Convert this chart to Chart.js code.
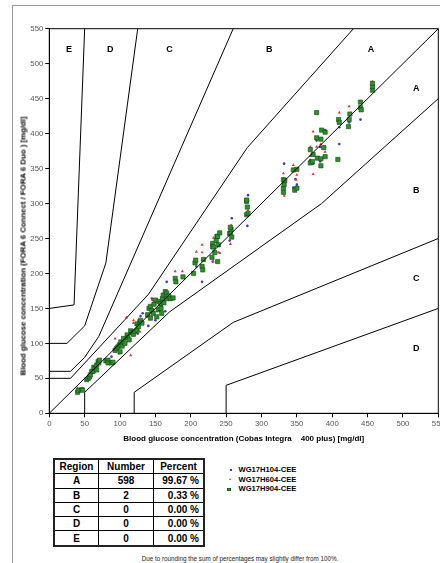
<!DOCTYPE html>
<html lang="en">
<head>
  <meta charset="UTF-8">
  <title>Consensus Error Grid</title>
  <script src="https://cdn.jsdelivr.net/npm/chart.js"></script>
  <style>
    body {
      margin: 0;
      width: 440px;
      height: 563px;
      overflow: hidden;
      background: #fff;
      font-family: "Liberation Sans", Arial, sans-serif;
      position: relative;
    }
    #frame {
      position: absolute;
      left: 12px;
      top: 5px;
      width: 500px;
      height: 600px;
      border-left: 1.5px solid #999;
      border-top: 1.5px solid #999;
    }
    #chart-box {
      position: absolute;
      left: 0;
      top: 0;
      width: 460px;
      height: 450px;
    }
    #ytitle {
      position: absolute;
      left: 22.5px;
      top: 246px;
      transform: translate(-50%, -50%) rotate(-90deg);
      white-space: nowrap;
      font-weight: bold;
      font-size: 7.8px;
      color: #000;
    }
    #stats {
      position: absolute;
      left: 53px;
      top: 458px;
      border-collapse: collapse;
      border: 2px solid #222;
      font-weight: bold;
      font-size: 10px;
    }
    #stats td, #stats th {
      border: 1px solid #000;
      height: 13.3px;
      padding: 0;
      text-align: center;
    }
    #stats td.pct { text-align: right; padding-right: 4px; }
    #legend {
      position: absolute;
      left: 226px;
      top: 465px;
      font-weight: bold;
      font-size: 7.6px;
    }
    .row { position: relative; height: 9.7px; line-height: 9.7px; padding-left: 12.5px; white-space: nowrap; }
    .mk { position: absolute; }
    #note {
      position: absolute;
      left: 240px;
      top: 558px;
      transform: translate(-50%, -50%);
      white-space: nowrap;
      font-size: 6.3px;
      color: #222;
    }
  </style>
</head>
<body>
  <div id="frame"></div>
  <div id="chart-box"><canvas id="grid" width="460" height="450"></canvas></div>
  <div id="ytitle">Blood glucose concentration (FORA 6 Connect / FORA 6 Duo ) [mg/dl]</div>
  <table id="stats"></table>
  <div id="legend"></div>
  <div id="note">Due to rounding the sum of percentages may slightly differ from 100%.</div>

  <script>
    // axis
    const xTitle = 'Blood glucose concentration (Cobas Integra    400 plus) [mg/dl]';
    const axisMax = 550;
    const tickStep = 50;

    // zone boundaries (consensus error grid)
    const lineAUpperX = [0, 30, 140, 280, 430];
    const lineAUpperY = [50, 50, 170, 380, 550];
    const lineALowerX = [50, 50, 170, 385, 550];
    const lineALowerY = [0, 30, 145, 300, 450];
    const lineBUpperX = [0, 30, 50, 70, 260];
    const lineBUpperY = [60, 60, 80, 110, 550];
    const lineBLowerX = [120, 120, 260, 550];
    const lineBLowerY = [0, 30, 130, 250];
    const lineCUpperX = [0, 25, 50, 80, 125];
    const lineCUpperY = [100, 100, 125, 215, 550];
    const lineCLowerX = [250, 250, 550];
    const lineCLowerY = [0, 40, 150];
    const lineDUpperX = [0, 35, 50];
    const lineDUpperY = [150, 155, 550];
    const identityX = [0, 550];
    const identityY = [0, 550];

    const zoneLabels = ['E', 'D', 'C', 'B', 'A', 'A', 'B', 'C', 'D'];
    const zoneLabelX = [28, 86, 170, 311, 455, 519, 519, 519, 519];
    const zoneLabelY = [520, 520, 520, 520, 520, 464, 318, 193, 92];

    // series
    const seriesNames = ['WG17H104-CEE', 'WG17H604-CEE', 'WG17H904-CEE'];

    const bluePts = [
      [88, 81], [99, 86], [125, 114], [129, 139], [132, 143], [140, 125], [145, 164],
      [150, 133], [159, 153], [164, 146], [166, 188], [175, 163], [179, 188], [208, 210],
      [216, 188], [231, 217], [234, 229], [255, 247], [258, 279], [280, 268], [281, 312],
      [345, 323], [348, 335], [350, 327], [332, 357], [369, 362], [373, 357], [378, 390],
      [383, 360], [383, 381], [390, 405], [410, 385], [410, 409], [424, 416], [440, 420]
    ];

    const redPts = [
      [40, 36], [62, 67], [66, 70], [71, 72], [79, 74], [93, 107], [109, 137], [115, 83],
      [119, 133], [119, 129], [128, 117], [138, 138], [143, 138], [146, 162], [150, 157],
      [154, 150], [157, 155], [170, 162], [178, 203], [188, 203], [208, 231], [216, 241],
      [216, 219], [216, 230], [206, 218], [232, 217], [232, 251], [239, 230], [257, 269],
      [256, 242], [241, 229], [281, 290], [331, 343], [332, 311], [349, 334], [350, 341],
      [345, 355], [369, 381], [369, 368], [373, 342], [373, 403], [378, 381], [384, 385],
      [390, 381], [390, 374], [410, 430], [424, 439], [440, 445], [457, 474]
    ];

    const greenPts = [
      [40, 30], [41, 33], [46, 34], [47, 33], [53, 48], [55, 50], [57, 52], [58, 55],
      [60, 60], [62, 60], [63, 66], [65, 64], [67, 62], [67, 69], [69, 74], [70, 72], [71, 76],
      [80, 75], [83, 76], [83, 72], [88, 72], [90, 73],
      [93, 90], [95, 93], [97, 95], [99, 98], [100, 88], [101, 102], [103, 96], [105, 107],
      [107, 100], [110, 112], [111, 108], [113, 105], [115, 118], [117, 115], [119, 113], [121, 117],
      [124, 119], [124, 128], [126, 124], [128, 131], [129, 133], [131, 129],
      [139, 141], [141, 150], [143, 136], [143, 153], [145, 147], [147, 143], [148, 156],
      [150, 162], [152, 138], [154, 148], [155, 160], [157, 157], [158, 150], [159, 143],
      [160, 164], [161, 169], [162, 158], [164, 174], [166, 164], [166, 172], [169, 168],
      [171, 164], [175, 165],
      [178, 193], [179, 188], [189, 195],
      [204, 200], [206, 215], [207, 219], [216, 210], [217, 205], [218, 220],
      [230, 223], [231, 243], [231, 238], [232, 238], [234, 230], [236, 247], [237, 253],
      [238, 253], [238, 217], [239, 241], [241, 258],
      [255, 257], [256, 258], [257, 263], [258, 252], [256, 266],
      [279, 284], [279, 303], [280, 295], [279, 305], [281, 286],
      [331, 316], [331, 322], [332, 327], [331, 334], [333, 333], [345, 348], [347, 319],
      [350, 349], [350, 322],
      [369, 358], [369, 377], [372, 360], [373, 370], [378, 394], [379, 365], [384, 392],
      [384, 364], [384, 354], [385, 405], [388, 380], [390, 367], [390, 402],
      [378, 430], [408, 363], [409, 420], [410, 416], [423, 410], [424, 420], [425, 428],
      [440, 437], [441, 434], [440, 445], [457, 462], [457, 467], [457, 472]
    ];

    // table
    const regions = ['A', 'B', 'C', 'D', 'E'];
    const regionCounts = [598, 2, 0, 0, 0];
    const regionPercents = ['99.67 %', '0.33 %', '0.00 %', '0.00 %', '0.00 %'];

    const toXY = (xs, ys) => xs.map((x, i) => ({ x: x, y: ys[i] }));
    const pairs = pts => pts.map(p => ({ x: p[0], y: p[1] }));

    function boundary(xs, ys) {
      return {
        type: 'line',
        data: toXY(xs, ys),
        borderColor: '#000',
        borderWidth: 1,
        pointRadius: 0,
        fill: false,
        tension: 0,
        order: 0
      };
    }

    const frameAndLabels = {
      id: 'frameAndLabels',
      afterDatasetsDraw(chart) {
        const { ctx, chartArea: a, scales: { x, y } } = chart;
        ctx.save();
        ctx.strokeStyle = '#000';
        ctx.lineWidth = 1;
        ctx.strokeRect(a.left, a.top, a.right - a.left, a.bottom - a.top);
        ctx.fillStyle = '#000';
        ctx.font = 'bold 9px "Liberation Sans", Arial, sans-serif';
        ctx.textAlign = 'center';
        ctx.textBaseline = 'middle';
        zoneLabels.forEach((t, i) => {
          ctx.fillText(t, x.getPixelForValue(zoneLabelX[i]), y.getPixelForValue(zoneLabelY[i]));
        });
        ctx.restore();
      }
    };

    const tickFont = { family: '"Liberation Sans", Arial, sans-serif', size: 7.8 };

    new Chart(document.getElementById('grid'), {
      type: 'scatter',
      data: {
        datasets: [
          boundary(identityX, identityY),
          boundary(lineAUpperX, lineAUpperY),
          boundary(lineALowerX, lineALowerY),
          boundary(lineBUpperX, lineBUpperY),
          boundary(lineBLowerX, lineBLowerY),
          boundary(lineCUpperX, lineCUpperY),
          boundary(lineCLowerX, lineCLowerY),
          boundary(lineDUpperX, lineDUpperY),
          {
            label: seriesNames[2],
            data: pairs(greenPts),
            pointStyle: 'rect',
            pointRadius: 3,
            backgroundColor: '#2f8f2f',
            borderColor: '#0f4a0f',
            borderWidth: 0.6,
            order: 1
          },
          {
            label: seriesNames[1],
            data: pairs(redPts),
            pointStyle: 'triangle',
            pointRadius: 1.8,
            backgroundColor: '#e8302a',
            borderColor: '#e8302a',
            borderWidth: 0,
            order: 2
          },
          {
            label: seriesNames[0],
            data: pairs(bluePts),
            pointStyle: 'circle',
            pointRadius: 1.3,
            backgroundColor: '#3b3bb5',
            borderColor: '#3b3bb5',
            borderWidth: 0,
            order: 3
          }
        ]
      },
      options: {
        responsive: false,
        animation: false,
        layout: { padding: { top: 28.7, right: 21.7, bottom: 0, left: 0 } },
        plugins: {
          legend: { display: false },
          tooltip: { enabled: false }
        },
        scales: {
          x: {
            type: 'linear',
            min: 0,
            max: axisMax,
            ticks: { stepSize: tickStep, font: tickFont, color: '#555', padding: 2, maxRotation: 0 },
            grid: { drawOnChartArea: false, drawTicks: true, tickLength: 4, color: '#000' },
            border: { color: '#000', width: 1 },
            title: {
              display: true,
              text: xTitle,
              color: '#000',
              font: { family: '"Liberation Sans", Arial, sans-serif', size: 8, weight: 'bold' },
              padding: { top: 3, bottom: 6 }
            },
            afterFit(s) { s.height = 36.7; }
          },
          y: {
            type: 'linear',
            min: 0,
            max: axisMax,
            ticks: { stepSize: tickStep, font: tickFont, color: '#555', padding: 2 },
            grid: { drawOnChartArea: false, drawTicks: true, tickLength: 4, color: '#000' },
            border: { color: '#000', width: 1 },
            afterFit(s) { s.width = 49.3; }
          }
        }
      },
      plugins: [frameAndLabels]
    });

    // region table
    const table = document.getElementById('stats');
    let html = '<tr><th style="width:43px">Region</th><th style="width:54px">Number</th><th style="width:49px">Percent</th></tr>';
    regions.forEach((r, i) => {
      html += '<tr><td>' + r + '</td><td>' + regionCounts[i] + '</td><td class="pct">' + regionPercents[i] + '</td></tr>';
    });
    table.innerHTML = html;

    // legend
    const markers = [
      '<span class="mk" style="left:3.7px;top:4px;width:2px;height:2px;background:#3b3bb5"></span>',
      '<span class="mk" style="left:3px;top:3.5px;width:0;height:0;border-left:1.6px solid transparent;border-right:1.6px solid transparent;border-bottom:2.6px solid #e8302a"></span>',
      '<span class="mk" style="left:1.3px;top:3.3px;width:4px;height:3.4px;background:#2f8f2f;box-shadow:inset 0 0 0 0.6px #0f4a0f"></span>'
    ];
    document.getElementById('legend').innerHTML = seriesNames
      .map((n, i) => '<div class="row">' + markers[i] + n + '</div>')
      .join('');
  </script>
</body>
</html>
